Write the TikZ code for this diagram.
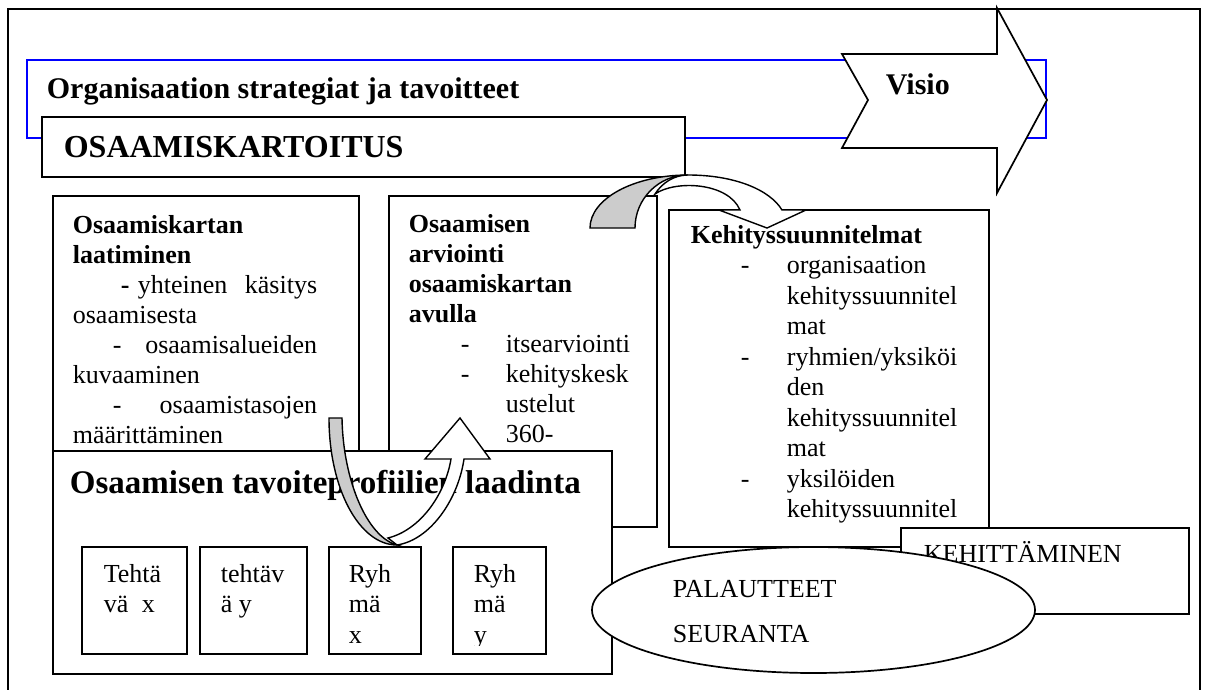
\documentclass[tikz,border=0pt]{standalone}
\usepackage{fontspec}
\setmainfont{Liberation Serif}
\usetikzlibrary{shapes.geometric}
\definecolor{bandgray}{RGB}{204,204,204}
\definecolor{stratblue}{RGB}{0,0,255}
\begin{document}
\begin{tikzpicture}[x=1pt,y=-1pt,line width=1.7pt,line join=miter,
  box/.style={draw=black,fill=white,rectangle,inner sep=0pt,anchor=north west},
  txt/.style={anchor=base west,inner sep=0pt,font=\fontsize{26}{30}\selectfont},
  btxt/.style={anchor=base west,inner sep=0pt,font=\fontsize{26}{30}\selectfont\bfseries},
  etxt/.style={anchor=base east,inner sep=0pt,font=\fontsize{26}{30}\selectfont},
  band/.style={draw=black,line width=1.4pt,fill=bandgray},
  blockarrow/.style={draw=black,line width=1.4pt,fill=white}]
\useasboundingbox (0,0) rectangle (1207,689);

% page frame
\node[box,fill=none,minimum width=1192pt,minimum height=720pt] (frame) at (7,8) {};

% strategy band
\node[box,fill=none,draw=stratblue,minimum width=1019pt,minimum height=78pt] (strategy) at (26,59) {};
\node[btxt,font=\fontsize{30}{34}\selectfont\bfseries] (strategytext) at (46,98) {Organisaation strategiat ja tavoitteet};

% mapping title bar
\node[box,minimum width=643pt,minimum height=60pt] (mapping) at (41,116) {};
\node[btxt,font=\fontsize{32}{36}\selectfont\bfseries] (mappingtext) at (63,157) {OSAAMISKARTOITUS};

% vision arrow
\draw[fill=white] (842,54) -- (997,54) -- (997,8) -- (1047,100) -- (997,193)
  -- (997,148) -- (842,148) -- (868,100) -- cycle;
\node[btxt,font=\fontsize{30}{34}\selectfont\bfseries] (vision) at (885,94) {Visio};

% competence map box
\node[box,minimum width=306pt,minimum height=280pt] (map) at (52,195) {};
\node[btxt] (mapa) at (72,233) {Osaamiskartan};
\node[btxt] (mapb) at (72,263) {laatiminen};
\node[btxt] (mapc) at (120,293) {-};
\node[txt]  (mapd) at (137,293) {yhteinen};
\node[etxt] (mape) at (318,293) {käsitys};
\node[txt]  (mapf) at (72,323) {osaamisesta};
\node[txt]  (mapg) at (112,353) {-};
\node[etxt] (maph) at (318,353) {osaamisalueiden};
\node[txt]  (mapi) at (72,383) {kuvaaminen};
\node[txt]  (mapj) at (112,413) {-};
\node[etxt] (mapk) at (318,413) {osaamistasojen};
\node[txt]  (mapl) at (72,443) {määrittäminen};

% assessment box
\node[box,minimum width=268pt,minimum height=331pt] (assess) at (388,195) {};
\node[btxt] (asa) at (408,232) {Osaamisen};
\node[btxt] (asb) at (408,262) {arviointi};
\node[btxt] (asc) at (408,292) {osaamiskartan};
\node[btxt] (asd) at (408,322) {avulla};
\node[txt]  (ase) at (460,352) {-};
\node[txt]  (asf) at (505,352) {itsearviointi};
\node[txt]  (asg) at (460,382) {-};
\node[txt]  (ash) at (505,382) {kehityskesk};
\node[txt]  (asi) at (505,412) {ustelut};
\node[txt]  (asj) at (505,442) {360-};

% development plans box
\node[box,minimum width=320pt,minimum height=337pt] (plans) at (668,209) {};
\node[btxt] (pla) at (690,243) {Kehityssuunnitelmat};
\node[txt] (plb) at (740,273.5) {-};
\node[txt] (plc) at (786,273.5) {organisaation};
\node[txt] (pld) at (786,304) {kehityssuunnitel};
\node[txt] (ple) at (786,334.5) {mat};
\node[txt] (plf) at (740,365) {-};
\node[txt] (plg) at (786,365) {ryhmien/yksiköi};
\node[txt] (plh) at (786,395.5) {den};
\node[txt] (pli) at (786,426) {kehityssuunnitel};
\node[txt] (plj) at (786,456.5) {mat};
\node[txt] (plk) at (740,487) {-};
\node[txt] (pll) at (786,487) {yksilöiden};
\node[txt] (plm) at (786,517.5) {kehityssuunnitel};

% curved arrow from assessment to development plans
\draw[band] (590,228) .. controls (590,198.7) and (633.9,175) .. (688,175)
  .. controls (658.7,175) and (635,198.7) .. (635,228) -- cycle;
\draw[blockarrow] (688,175) .. controls (735,175) and (770,190) .. (782,210)
  -- (806,210) -- (767,228) -- (719,210) -- (740,210)
  .. controls (728,182) and (675,180) .. (655,194)
  .. controls (662,183) and (673.9,175) .. (688,175) -- cycle;

% target profile box
\node[box,minimum width=559pt,minimum height=223pt] (profile) at (52,450) {};
\node[btxt,font=\fontsize{33}{37}\selectfont\bfseries] (profiletext) at (69,493) {Osaamisen tavoiteprofiilien laadinta};

\node[box,minimum width=105pt,minimum height=107pt] (taskx) at (81,546) {};
\node[txt] (taskxa) at (103,582) {Tehtä};
\node[txt] (taskxb) at (103,612) {vä};
\node[txt] (taskxc) at (141,612) {x};

\node[box,minimum width=107pt,minimum height=107pt] (tasky) at (199,546) {};
\node[txt] (taskya) at (220,582) {tehtäv};
\node[txt] (taskyb) at (220,612) {ä y};

\node[box,minimum width=92pt,minimum height=107pt] (groupx) at (328,546) {};
\node[txt] (groupxa) at (348,582) {Ryh};
\node[txt] (groupxb) at (348,612) {mä};
\node[txt] (groupxc) at (348,643) {x};

\node[box,minimum width=93pt,minimum height=107pt] (groupy) at (452,546) {};
\node[txt] (groupya) at (473,582) {Ryh};
\node[txt] (groupyb) at (473,612) {mä};
\begin{scope}
  \clip (452,546) rectangle (545,645);
  \node[txt] (groupyc) at (473,643) {y};
\end{scope}

% curved arrow from group profile up to assessment
\draw[band] (329,418) .. controls (329,488) and (359,545) .. (397,545)
  .. controls (367,537) and (343,480) .. (342,418) -- cycle;
\draw[blockarrow] (397,545) .. controls (430,540) and (458,500) .. (464,459)
  -- (490,459) -- (460,418) -- (425,459) -- (451,459)
  .. controls (445,495) and (420,530) .. (388,538) -- cycle;

% development box and feedback ellipse
\node[box,minimum width=288pt,minimum height=86pt] (develop) at (900,527) {};
\node[txt] (developtext) at (923,562) {KEHITTÄMINEN};

\node[draw=black,fill=white,ellipse,inner sep=0pt,minimum width=443pt,minimum height=126pt] (feedback) at (813.5,610) {};
\node[txt] (feedbacka) at (672,597) {PALAUTTEET};
\node[txt] (feedbackb) at (672,642) {SEURANTA};
\end{tikzpicture}
\end{document}
